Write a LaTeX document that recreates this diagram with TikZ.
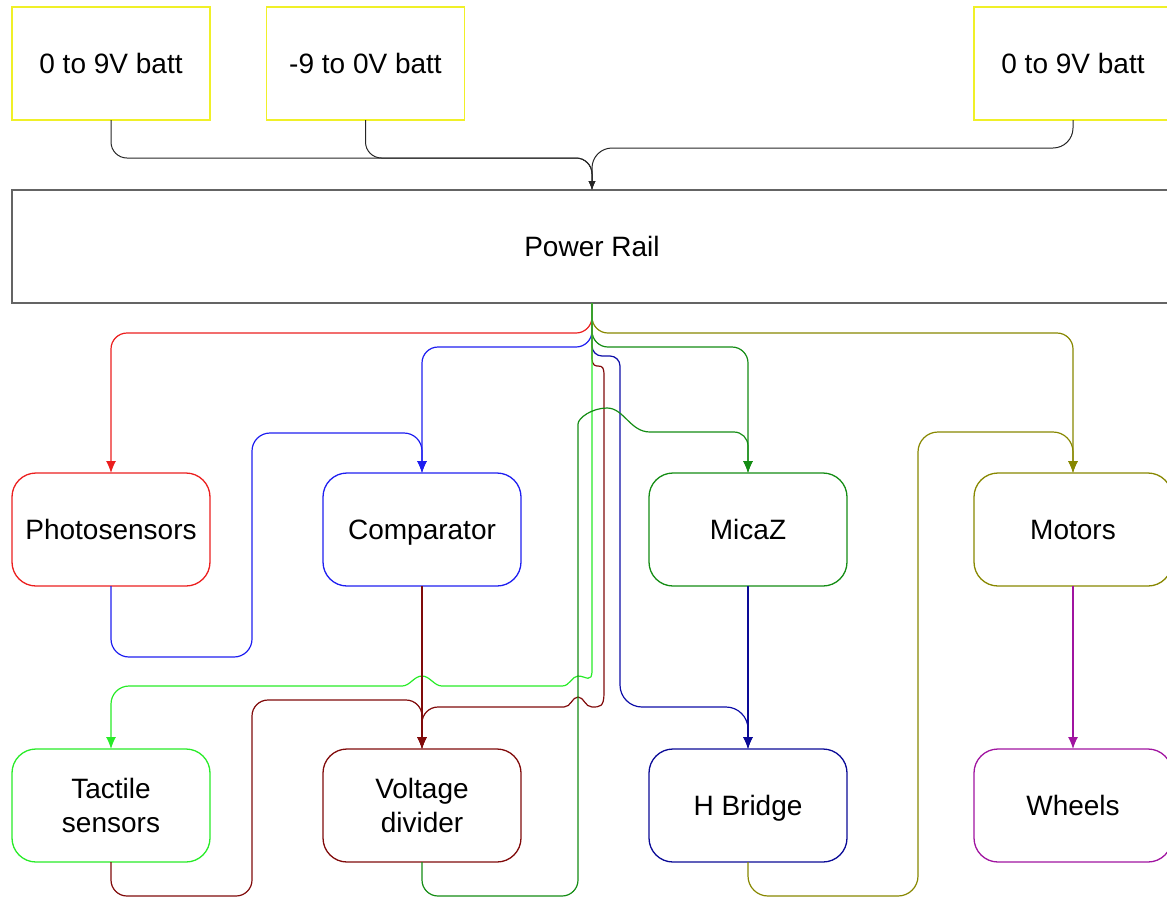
\documentclass[tikz,border=0pt]{standalone}
\usepackage{fontspec}
\setmainfont{Liberation Sans}
\usetikzlibrary{arrows.meta}
\definecolor{battY}{RGB}{240,240,40}
\definecolor{railC}{RGB}{100,100,100}
\definecolor{cRed}{RGB}{235,30,30}
\definecolor{cBlue}{RGB}{30,30,240}
\definecolor{cOlive}{RGB}{135,135,0}
\definecolor{cGreen}{RGB}{20,140,20}
\definecolor{cLime}{RGB}{40,235,40}
\definecolor{cBrown}{RGB}{128,10,10}
\definecolor{cNavy}{RGB}{10,10,150}
\definecolor{cPurple}{RGB}{160,20,160}
\begin{document}
\begin{tikzpicture}[x=1pt,y=-1pt,
 box/.style={draw,line width=1.3pt,minimum width=198pt,minimum height=113pt,inner sep=0pt,outer sep=0pt,align=center,font=\fontsize{28}{34}\selectfont},
 one/.style={text height=20pt,text depth=0pt},
 rbox/.style={box,rounded corners=24pt},
 wire/.style={line width=1.2pt,rounded corners=16pt,-{Latex[length=12pt,width=10pt]}},
 bwire/.style={line width=1pt,black!85,rounded corners=16pt,-{Latex[length=9pt,width=7pt]}},
]
\useasboundingbox (0,0) rectangle (1167,898);
% top boxes
\node[box,one,draw=battY] (b1) at (111,63.5) {0 to 9V batt};
\node[box,one,draw=battY] (b2) at (365.5,63.5) {-9 to 0V batt};
\node[box,one,draw=battY] (b3) at (1073,63.5) {0 to 9V batt};
\node[box,one,draw=railC,minimum width=1160pt] (rail) at (592,246.5) {Power Rail};
% middle row
\node[rbox,one,draw=cRed] (photo) at (111,529.5) {Photosensors};
\node[rbox,one,draw=cBlue] (comp) at (422,529.5) {Comparator};
\node[rbox,one,draw=cGreen] (micaz) at (748,529.5) {MicaZ};
\node[rbox,one,draw=cOlive] (motors) at (1073,529.5) {Motors};
% bottom row
\node[rbox,draw=cLime] (tact) at (111,805.5) {Tactile\\sensors};
\node[rbox,draw=cBrown] (vd) at (422,805.5) {Voltage\\divider};
\node[rbox,one,draw=cNavy] (hb) at (748,805.5) {H Bridge};
\node[rbox,one,draw=cPurple] (wheels) at (1073,805.5) {Wheels};

% batteries to rail
\draw[bwire] (b1.south) -- (111,158) -- (592,158) -- (rail.north);
\draw[bwire] (b2.south) -- (365.5,158) -- (592,158) -- (rail.north);
\draw[bwire,rounded corners=20pt] (b3.south) -- (1073,148) -- (592,148) -- (rail.north);

% rail outputs
\draw[wire,cRed] (rail.south) -- (592,333) -- (111,333) -- (photo.north);
\draw[wire,cOlive] (rail.south) -- (592,333) -- (1073,333) -- (motors.north);
\draw[wire,cBlue] (rail.south) -- (592,347) -- (422,347) -- (comp.north);
\draw[wire,cGreen] (rail.south) -- (592,347) -- (748,347) -- (micaz.north);
\draw[wire,cNavy!80!cBlue] (rail.south) [rounded corners=10pt] -- (592,356) -- (620,356) [rounded corners=22pt] -- (620,707) -- (748,707) -- (hb.north);
\draw[wire,cBrown,sharp corners] (rail.south) -- (592,358)
  .. controls (592,366) and (596,366) .. (598,366) .. controls (603,366) and (604,368) .. (604,376)
  -- (604,693) .. controls (604,707) and (600,707) .. (592,707)
  .. controls (585,707) and (584,697) .. (578,697) .. controls (572,697) and (571,707) .. (564,707)
  [rounded corners=16pt] -- (422,707) -- (vd.north);
\draw[wire,cLime,sharp corners] (rail.south) -- (592,670)
  .. controls (592,684) and (586,676) .. (578,676) .. controls (572,676) and (570,686) .. (562,686) -- (442,686)
  .. controls (434,686) and (430,676) .. (422,676) .. controls (414,676) and (410,686) .. (402,686)
  [rounded corners=18pt] -- (111,686) -- (tact.north);

% other links
\draw[wire,cBlue,rounded corners=18pt] (photo.south) -- (111,657) -- (252,657) -- (252,433) -- (422,433) -- (comp.north);
\draw[wire,cBrown] (comp.south) -- (vd.north);
\draw[wire,cBrown] (tact.south) -- (111,896) -- (252,896) -- (252,700) -- (422,700) -- (vd.north);
\draw[wire,cGreen] (vd.south) -- (422,896) -- (578,896) -- (578,440) [sharp corners]
  .. controls (578,418) and (592,408) .. (607,408) .. controls (624,408) and (630,432) .. (650,432)
  [rounded corners=14pt] -- (748,432) -- (micaz.north);
\draw[wire,cNavy] (micaz.south) -- (hb.north);
\draw[wire,cOlive,rounded corners=20pt] (hb.south) -- (748,896) -- (918,896) -- (918,432) -- (1073,432) -- (motors.north);
\draw[wire,cPurple] (motors.south) -- (wheels.north);
\end{tikzpicture}
\end{document}
